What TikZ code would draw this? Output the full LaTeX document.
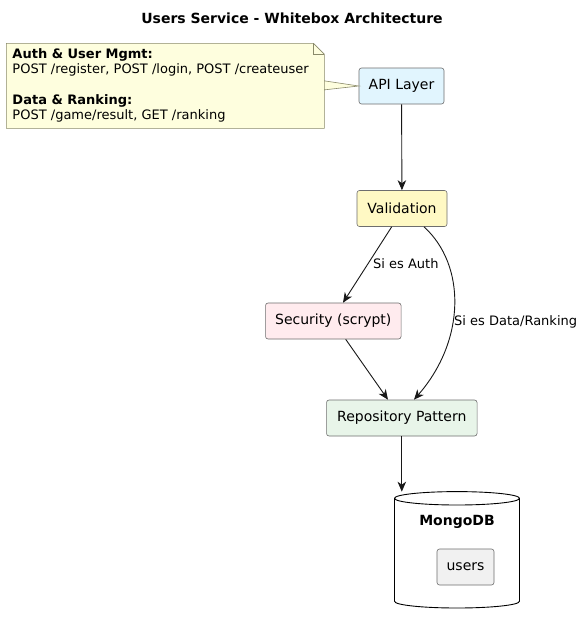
\documentclass[tikz,border=0pt]{standalone}
\usepackage{fontspec}
\setmainfont{DejaVu Sans}
\usetikzlibrary{arrows.meta}
\definecolor{bordc}{HTML}{6E6E6E}
\definecolor{linec}{HTML}{181818}
\definecolor{apic}{HTML}{E1F5FE}
\definecolor{valc}{HTML}{FFF9C4}
\definecolor{secc}{HTML}{FFEBEE}
\definecolor{repc}{HTML}{E8F5E9}
\definecolor{usrc}{HTML}{F1F1F1}
\definecolor{notec}{HTML}{FEFEDE}
\definecolor{notebc}{HTML}{8A8A6A}
\tikzset{
  box/.style={draw=bordc, line width=0.6pt, rounded corners=2.5pt, inner sep=0pt, font=\fontsize{14}{16}\selectfont, text=black},
  arr/.style={draw=linec, line width=0.9pt, -{Stealth[length=10pt,width=8.5pt,inset=3pt]}},
  lbl/.style={font=\fontsize{13}{15}\selectfont, inner sep=0pt, anchor=west},
}
\begin{document}
\begin{tikzpicture}[x=1pt,y=-1pt]
\useasboundingbox[fill=white] (0,0) rectangle (584,625);
% title
\node[font=\bfseries\fontsize{14}{16}\selectfont] (title) at (292,18) {Users Service - Whitebox Architecture};
% boxes
\node[box, fill=apic, minimum width=85pt, minimum height=36pt] (api) at (401.5,86) {API Layer};
\node[box, fill=valc, minimum width=90pt, minimum height=36pt] (val) at (402,208.5) {Validation};
\node[box, fill=secc, minimum width=135.5pt, minimum height=36pt] (sec) at (333.3,321) {Security (scrypt)};
\node[box, fill=repc, minimum width=150.5pt, minimum height=36pt] (repo) at (401.8,418) {Repository Pattern};
% note
\node[minimum width=317.7pt, minimum height=84.7pt, inner sep=0pt, anchor=north west] (note) at (6.3,43.3) {};
\filldraw[fill=notec, draw=notebc, line width=0.6pt]
  (note.north west) -- ([xshift=-11pt]note.north east) -- ([yshift=-11pt]note.north east)
  -- ([yshift=-4pt]note.east) -- (api.west) -- ([yshift=5pt]note.east)
  -- (note.south east) -- (note.south west) -- cycle;
\draw[draw=notebc, line width=0.6pt] ([xshift=-11pt]note.north east) -- ([xshift=-11pt,yshift=-11pt]note.north east) -- ([yshift=-11pt]note.north east);
\node[anchor=west, align=left, inner sep=0pt, font=\fontsize{13}{15.3}\selectfont] (notetext) at (12.3,85.7) {\textbf{Auth \& User Mgmt:}\\POST /register, POST /login, POST /createuser\\[15.3pt]\textbf{Data \& Ranking:}\\POST /game/result, GET /ranking};
% database
\node[minimum width=125pt, minimum height=116.3pt, inner sep=0pt, anchor=north west] (mongo) at (394.5,491.7) {};
\filldraw[fill=white, draw=black, line width=0.9pt]
  (394.5,498.3) -- (394.5,601.3) arc[start angle=180, end angle=360, x radius=62.5pt, y radius=6.7pt]
  -- (519.5,498.3) arc[start angle=0, end angle=180, x radius=62.5pt, y radius=6.7pt] -- cycle;
\draw[line width=0.9pt] (394.5,498.3) arc[start angle=180, end angle=360, x radius=62.5pt, y radius=6.7pt];
\node[font=\bfseries\fontsize{14}{16}\selectfont] (mongolbl) at (457,521.7) {MongoDB};
\node[box, fill=usrc, minimum width=57pt, minimum height=36pt] (users) at (465.5,567) {users};
% connectors
\draw[arr] (api) -- (val);
\draw[arr] ([xshift=-10.3pt]val.south) -- ([xshift=9.7pt]sec.north);
\draw[arr] ([xshift=22pt]val.south) .. controls (466,265) and (466,340) .. ([xshift=12.2pt]repo.north);
\draw[arr] ([xshift=12.4pt]sec.south) -- ([xshift=-13.8pt]repo.north);
\draw[arr] (repo.south) -- (repo.south |- mongo.north);
% labels
\node[lbl] (lauth) at (373,264) {Si es Auth};
\node[lbl] (ldata) at (454,322) {Si es Data/Ranking};
\end{tikzpicture}
\end{document}
